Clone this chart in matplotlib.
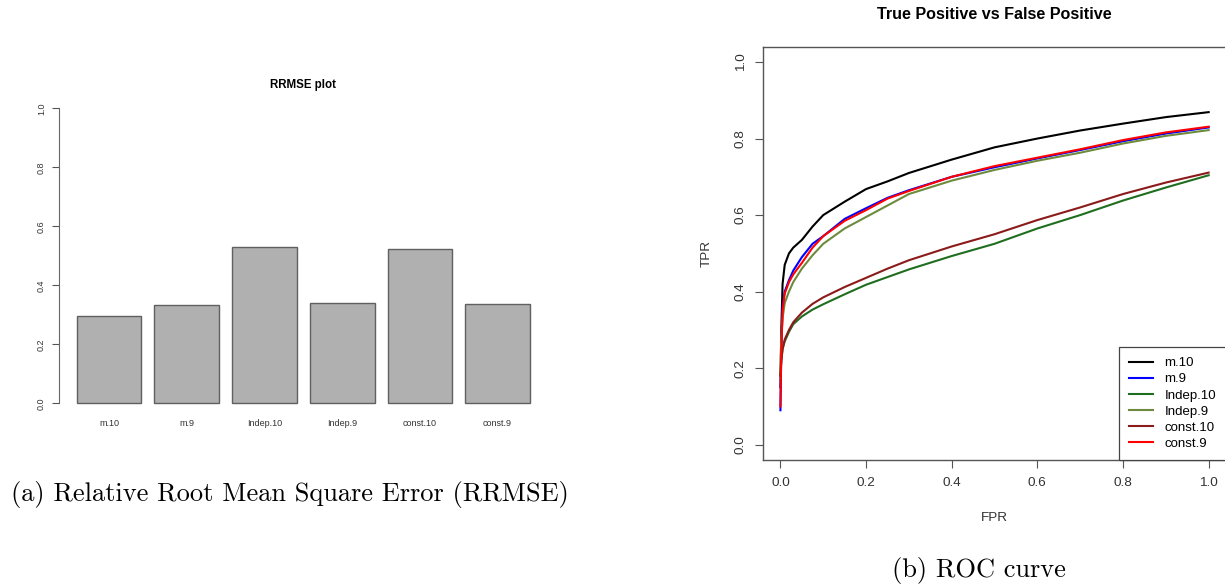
import matplotlib
matplotlib.use('Agg')
import matplotlib.pyplot as plt
import numpy as np

plt.rcParams['font.family'] = ['Liberation Sans', 'DejaVu Sans']

# RRMSE bar values
models = ['m.10', 'm.9', 'Indep.10', 'Indep.9', 'const.10', 'const.9']
rrmse = [0.297, 0.334, 0.529, 0.342, 0.525, 0.336]

# ROC curves
fpr = [0, 0.002, 0.005, 0.01, 0.02, 0.03, 0.05, 0.075, 0.1, 0.15, 0.2,
       0.25, 0.3, 0.4, 0.5, 0.6, 0.7, 0.8, 0.9, 1.0]
tpr_m10 = [0.15, 0.30, 0.42, 0.47, 0.50, 0.515, 0.535, 0.57, 0.60, 0.635, 0.668,
           0.688, 0.71, 0.745, 0.777, 0.800, 0.821, 0.839, 0.856, 0.869]
tpr_m9 = [0.09, 0.25, 0.36, 0.40, 0.43, 0.455, 0.49, 0.525, 0.545, 0.59, 0.618,
          0.645, 0.665, 0.700, 0.725, 0.748, 0.770, 0.793, 0.813, 0.829]
tpr_indep10 = [0.18, 0.22, 0.25, 0.27, 0.295, 0.315, 0.335, 0.353, 0.367, 0.393, 0.418,
               0.438, 0.458, 0.493, 0.525, 0.565, 0.600, 0.638, 0.672, 0.704]
tpr_indep9 = [0.20, 0.28, 0.33, 0.37, 0.40, 0.425, 0.46, 0.495, 0.525, 0.565, 0.595,
              0.625, 0.655, 0.690, 0.718, 0.742, 0.763, 0.787, 0.807, 0.822]
tpr_const10 = [0.18, 0.22, 0.25, 0.275, 0.30, 0.32, 0.345, 0.368, 0.385, 0.412, 0.436,
               0.46, 0.482, 0.518, 0.55, 0.587, 0.62, 0.655, 0.685, 0.711]
tpr_const9 = [0.10, 0.24, 0.35, 0.395, 0.425, 0.445, 0.475, 0.515, 0.545, 0.585, 0.613,
              0.643, 0.663, 0.700, 0.728, 0.750, 0.772, 0.796, 0.816, 0.831]

roc = [('m.10', tpr_m10, 'black'),
       ('m.9', tpr_m9, '#0000ff'),
       ('Indep.10', tpr_indep10, '#1f6e1f'),
       ('Indep.9', tpr_indep9, '#6e8b3d'),
       ('const.10', tpr_const10, '#8b1a1a'),
       ('const.9', tpr_const9, '#ff0000')]

W, H = 1225, 585
fig = plt.figure(figsize=(W / 100, H / 100), dpi=100)

def rect(x0, y0, x1, y1):
    # pixel box (top-left origin) -> figure fraction
    return [x0 / W, 1 - y1 / H, (x1 - x0) / W, (y1 - y0) / H]

# ---- (a) RRMSE bar plot
ax1 = fig.add_axes(rect(58.6, 96.5, 548.1, 415.3))
xpos = 0.7 + 1.2 * np.arange(len(models))
ax1.bar(xpos, rrmse, width=1.0, color='#b0b0b0', edgecolor='#606060', linewidth=1.0)
ax1.set_xlim(-0.08, 7.48)
ax1.set_ylim(-0.04, 1.04)
for s in ['top', 'right', 'bottom']:
    ax1.spines[s].set_visible(False)
ax1.spines['left'].set_bounds(0, 1)
ax1.spines['left'].set_color('#666666')
ax1.set_yticks(np.arange(0, 1.01, 0.2))
ax1.set_yticklabels(['%.1f' % v for v in np.arange(0, 1.01, 0.2)], rotation=90,
                    va='center', fontsize=6.5, color='#333333')
ax1.tick_params(axis='y', length=5, width=0.8, color='#555555', pad=4)
ax1.set_xticks(xpos)
ax1.set_xticklabels(models, fontsize=6.5, color='#333333')
ax1.tick_params(axis='x', length=0, pad=3)
ax1.text(0.5, 1.036, 'RRMSE plot', transform=ax1.transAxes, ha='center', va='center',
         fontsize=8.3, fontweight='bold')

# ---- (b) ROC curve
ax2 = fig.add_axes(rect(763.3, 46.7, 1225.8, 460.0))
for name, tpr, col in roc:
    ax2.plot(fpr, tpr, color=col, lw=1.5, label=name)
ax2.set_xlim(-0.04, 1.04)
ax2.set_ylim(-0.04, 1.04)
ticks = np.arange(0, 1.01, 0.2)
ax2.set_xticks(ticks)
ax2.set_xticklabels(['%.1f' % v for v in ticks], fontsize=9.7, color='#333333')
ax2.set_yticks(ticks)
ax2.set_yticklabels(['%.1f' % v for v in ticks], rotation=90, va='center',
                    fontsize=9.7, color='#333333')
ax2.tick_params(length=6, width=0.8, color='#555555', pad=6)
for s in ax2.spines.values():
    s.set_color('#555555')
    s.set_linewidth(1.0)
ax2.set_xlabel('FPR', fontsize=9.7, color='#333333')
ax2.xaxis.label.set_va('center')
ax2.xaxis.set_label_coords(0.5, -0.140)
ax2.set_ylabel('TPR', fontsize=9.7, color='#333333')
ax2.yaxis.label.set_va('center')
ax2.yaxis.set_label_coords(-0.1217, 0.5)
ax2.text(0.5, 1.0767, 'True Positive vs False Positive', transform=ax2.transAxes,
         ha='center', va='center', fontsize=11.6, fontweight='bold')
leg = ax2.legend(loc='lower right', fontsize=9.5, borderaxespad=0, fancybox=False,
                 handlelength=1.85, handletextpad=0.85, labelspacing=0.3,
                 borderpad=0.75, framealpha=1)
leg.get_frame().set_edgecolor('#444444')
leg.get_frame().set_linewidth(0.9)

# ---- sub-captions
fig.text(290 / W, 1 - 494 / H, '(a) Relative Root Mean Square Error (RRMSE)',
         fontfamily='cmr10', fontsize=19, ha='center', va='center')
fig.text(979 / W, 1 - 571 / H, '(b) ROC curve',
         fontfamily='cmr10', fontsize=19, ha='center', va='center')

fig.savefig('out.png', dpi=100)
